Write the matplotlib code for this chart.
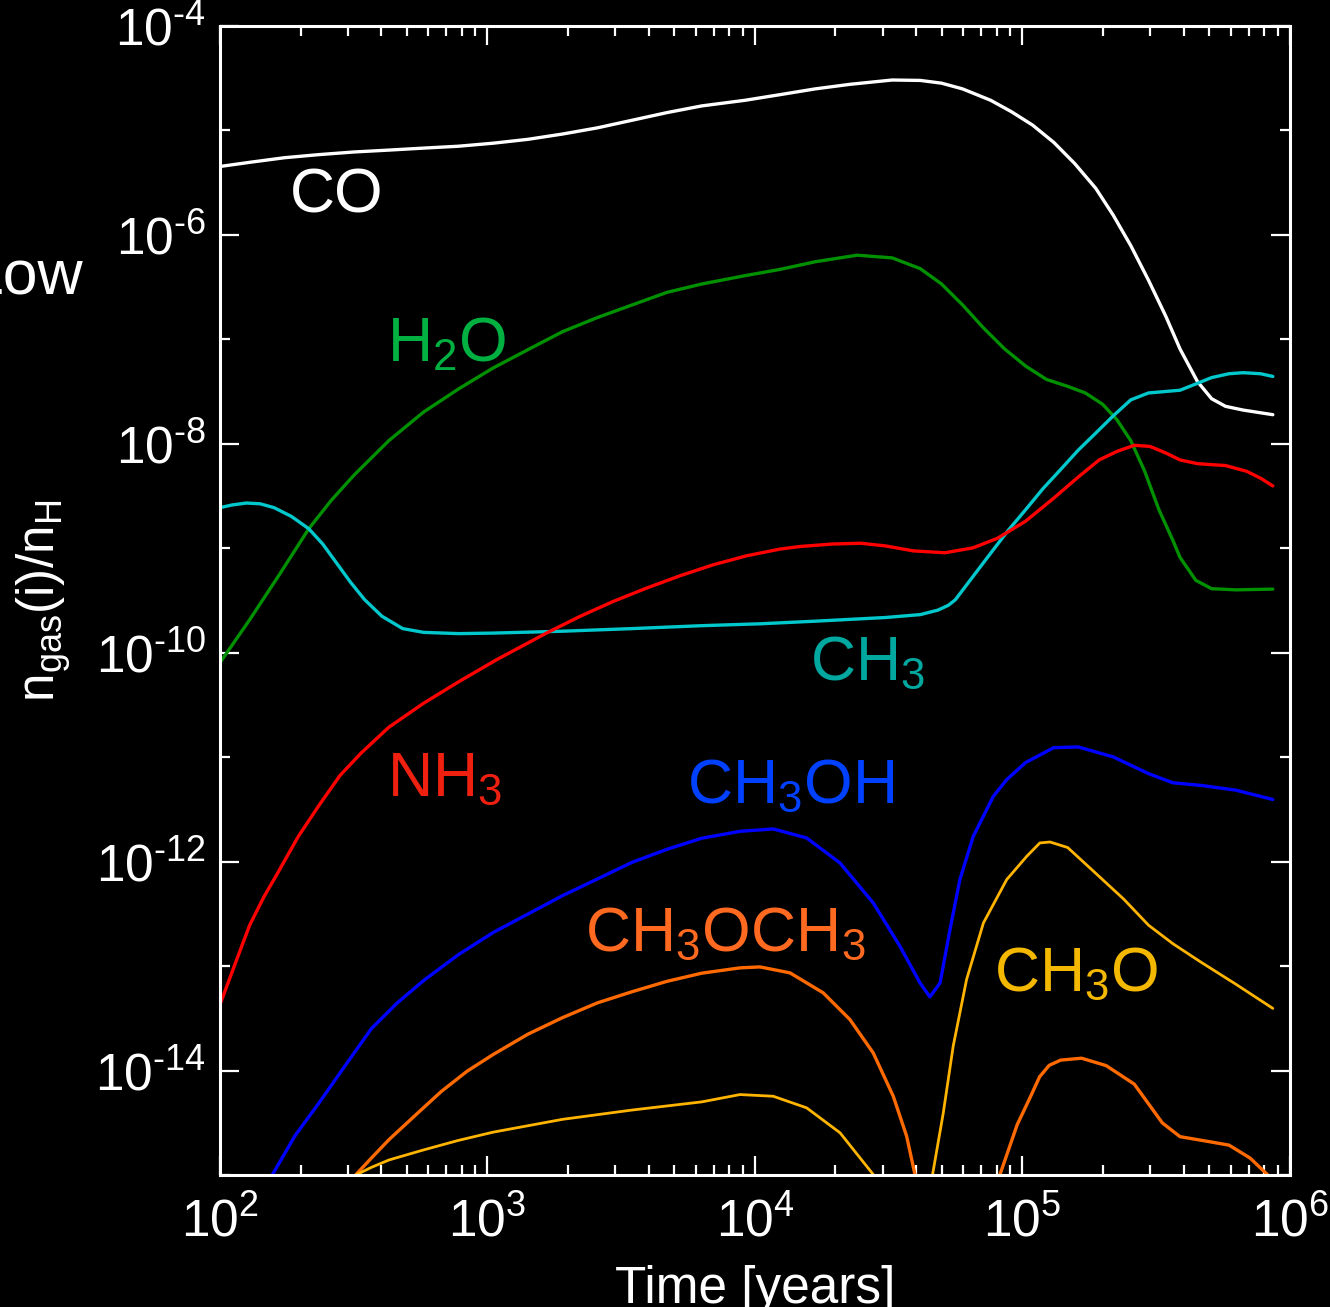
import matplotlib
matplotlib.use("Agg")
import matplotlib.pyplot as plt
import numpy as np
from matplotlib.ticker import FixedLocator, LogLocator, FuncFormatter, NullFormatter

plt.rcParams['font.family'] = ['Liberation Sans', 'DejaVu Sans']
plt.rcParams['mathtext.fontset'] = 'custom'
plt.rcParams['mathtext.rm'] = 'Liberation Sans'
plt.rcParams['mathtext.it'] = 'Liberation Sans'
plt.rcParams['mathtext.bf'] = 'Liberation Sans:bold'

# abundances, as log10(time [yr]) and log10(n/nH)
co_t = [2.0, 2.111, 2.241, 2.371, 2.501, 2.631, 2.761, 2.891, 3.021, 3.151, 3.281, 3.411, 3.541,
        3.671, 3.801, 3.963, 4.094, 4.225, 4.356, 4.513, 4.618, 4.697, 4.776, 4.881, 4.959,
        5.038, 5.117, 5.195, 5.274, 5.339, 5.405, 5.471, 5.536, 5.589, 5.654, 5.707, 5.759,
        5.825, 5.936]
co_n = [-5.345, -5.305, -5.261, -5.231, -5.206, -5.188, -5.169, -5.151, -5.122, -5.085, -5.034, -4.975, -4.902,
        -4.829, -4.765, -4.711, -4.657, -4.602, -4.558, -4.517, -4.521, -4.547, -4.602, -4.711, -4.821,
        -4.949, -5.114, -5.316, -5.554, -5.810, -6.103, -6.433, -6.780, -7.092, -7.403, -7.568, -7.641,
        -7.677, -7.721]

h2o_t = [2.0, 2.111, 2.222, 2.332, 2.417, 2.501, 2.631, 2.761, 2.891, 3.021, 3.151, 3.281, 3.411,
         3.541, 3.671, 3.801, 3.963, 4.094, 4.225, 4.382, 4.513, 4.618, 4.697, 4.776, 4.854,
         4.933, 5.012, 5.090, 5.169, 5.235, 5.300, 5.353, 5.405, 5.457, 5.510, 5.562, 5.589,
         5.648, 5.707, 5.798, 5.936]
h2o_n = [-10.095, -9.684, -9.252, -8.813, -8.538, -8.300, -7.970, -7.696, -7.476, -7.274, -7.099, -6.926, -6.791,
         -6.670, -6.550, -6.470, -6.390, -6.330, -6.257, -6.194, -6.220, -6.323, -6.469, -6.670, -6.890,
         -7.091, -7.256, -7.384, -7.450, -7.513, -7.622, -7.769, -7.970, -8.263, -8.630, -8.923, -9.087,
         -9.307, -9.387, -9.398, -9.391]

ch3_t = [2.0, 2.046, 2.098, 2.150, 2.202, 2.267, 2.332, 2.384, 2.436, 2.488, 2.540, 2.605, 2.683,
         2.761, 2.891, 3.021, 3.281, 3.541, 3.801, 4.019, 4.225, 4.487, 4.618, 4.684, 4.723,
         4.749, 4.815, 4.880, 4.946, 5.012, 5.077, 5.143, 5.208, 5.274, 5.339, 5.405, 5.471,
         5.589, 5.654, 5.707, 5.772, 5.825, 5.890, 5.936]
ch3_n = [-8.611, -8.585, -8.567, -8.574, -8.611, -8.695, -8.813, -8.959, -9.142, -9.325, -9.490, -9.650, -9.769,
         -9.805, -9.817, -9.812, -9.794, -9.769, -9.741, -9.723, -9.698, -9.663, -9.635, -9.592, -9.546,
         -9.493, -9.270, -9.051, -8.831, -8.630, -8.428, -8.245, -8.062, -7.897, -7.733, -7.579, -7.513,
         -7.487, -7.421, -7.366, -7.329, -7.319, -7.329, -7.355]

nh3_t = [2.0, 2.059, 2.111, 2.163, 2.215, 2.293, 2.371, 2.449, 2.527, 2.631, 2.761, 2.891, 3.034,
         3.221, 3.346, 3.470, 3.595, 3.720, 3.844, 3.969, 4.093, 4.168, 4.291, 4.395, 4.487,
         4.592, 4.710, 4.815, 4.907, 5.012, 5.117, 5.208, 5.287, 5.353, 5.418, 5.477, 5.536,
         5.589, 5.654, 5.759, 5.838, 5.890, 5.936]
nh3_n = [-13.369, -12.962, -12.608, -12.343, -12.112, -11.758, -11.458, -11.174, -10.962, -10.714, -10.484, -10.28, -10.067,
         -9.811, -9.652, -9.509, -9.381, -9.263, -9.158, -9.072, -9.008, -8.983, -8.959, -8.952, -8.977,
         -9.025, -9.043, -8.996, -8.904, -8.740, -8.520, -8.319, -8.154, -8.073, -8.014, -8.025, -8.088,
         -8.154, -8.190, -8.208, -8.263, -8.329, -8.403]

ch3oh_t = [2.17, 2.196, 2.280, 2.371, 2.468, 2.566, 2.663, 2.761, 2.891, 3.021, 3.151, 3.281, 3.411,
           3.541, 3.671, 3.801, 3.944, 4.068, 4.193, 4.318, 4.442, 4.542, 4.617, 4.654, 4.692,
           4.729, 4.766, 4.816, 4.891, 4.941, 5.012, 5.117, 5.208, 5.339, 5.471, 5.562, 5.667,
           5.798, 5.936]
ch3oh_n = [-15.1, -14.997, -14.626, -14.307, -13.953, -13.599, -13.352, -13.139, -12.891, -12.679, -12.502, -12.325, -12.166,
           -12.006, -11.882, -11.776, -11.710, -11.687, -11.773, -12.013, -12.395, -12.810, -13.161, -13.295, -13.161,
           -12.651, -12.172, -11.758, -11.375, -11.215, -11.051, -10.909, -10.902, -10.997, -11.157, -11.245, -11.270,
           -11.316, -11.405]

ch3och3_t1 = [2.50, 2.508, 2.566, 2.632, 2.729, 2.827, 2.924, 3.021, 3.151, 3.281, 3.411, 3.541, 3.671,
              3.801, 3.944, 4.019, 4.131, 4.255, 4.355, 4.442, 4.517, 4.567, 4.598, 4.605]
ch3och3_n1 = [-15.1, -14.997, -14.838, -14.661, -14.431, -14.201, -14.006, -13.847, -13.652, -13.493, -13.352, -13.245, -13.146,
              -13.068, -13.017, -13.008, -13.065, -13.256, -13.512, -13.831, -14.246, -14.629, -14.995, -15.1]
ch3och3_t2 = [4.91, 4.916, 4.980, 5.030, 5.064, 5.100, 5.143, 5.221, 5.313, 5.418, 5.523, 5.589, 5.694,
              5.772, 5.851, 5.916, 5.93]
ch3och3_n2 = [-15.1, -14.995, -14.520, -14.250, -14.060, -13.950, -13.900, -13.882, -13.953, -14.130, -14.502, -14.633, -14.679,
              -14.714, -14.838, -14.997, -15.1]

ch3o_t1 = [2.505, 2.510, 2.566, 2.632, 2.761, 2.891, 3.021, 3.281, 3.541, 3.801, 3.944, 4.068, 4.193,
           4.318, 4.442, 4.452]
ch3o_n1 = [-15.1, -14.997, -14.927, -14.856, -14.760, -14.669, -14.590, -14.467, -14.378, -14.300, -14.230, -14.246, -14.357,
           -14.596, -14.995, -15.1]
ch3o_t2 = [4.66, 4.664, 4.704, 4.741, 4.791, 4.854, 4.941, 5.016, 5.065, 5.103, 5.169, 5.274, 5.379,
           5.471, 5.562, 5.667, 5.798, 5.936]
ch3o_n2 = [-15.1, -14.995, -14.405, -13.767, -13.129, -12.587, -12.172, -11.949, -11.821, -11.812, -11.865, -12.112, -12.360,
           -12.608, -12.785, -12.962, -13.174, -13.405]

fig = plt.figure(figsize=(13.3, 13.07), dpi=100, facecolor='black')
ax = fig.add_axes([0.1654, 0.1010, 0.8045, 0.8791], facecolor='black')

lw = 2.4
def p(t, n, c, w=lw):
    ax.plot(10 ** np.array(t), 10 ** np.array(n), color=c, lw=w,
            solid_joinstyle='round', solid_capstyle='round')

p(co_t, co_n, 'white')
p(h2o_t, h2o_n, '#009000')
p(ch3_t, ch3_n, '#00C8CC')
p(nh3_t, nh3_n, '#FF0000')
p(ch3oh_t, ch3oh_n, '#0000FF')
p(ch3och3_t1, ch3och3_n1, '#FF6A00')
p(ch3och3_t2, ch3och3_n2, '#FF6A00')
p(ch3o_t1, ch3o_n1, '#FFB400', 2.0)
p(ch3o_t2, ch3o_n2, '#FFB400', 2.0)

ax.set_xscale('log')
ax.set_yscale('log')
ax.set_xlim(1e2, 1e6)
ax.set_ylim(1e-15, 1e-4)

ax.yaxis.set_major_locator(FixedLocator([10.0 ** e for e in range(-14, -3, 2)]))
ax.yaxis.set_minor_locator(FixedLocator([10.0 ** e for e in range(-15, -4, 2)]))
ax.yaxis.set_minor_formatter(NullFormatter())
ax.xaxis.set_major_locator(LogLocator(base=10, numticks=10))
ax.xaxis.set_minor_locator(LogLocator(base=10, subs=np.arange(2, 10), numticks=20))
ax.xaxis.set_minor_formatter(NullFormatter())

def expfmt(v, pos):
    e = int(round(np.log10(v)))
    if e < 0:
        return r'$\mathregular{10^{\text{-}%d}}$' % (-e)
    return r'$\mathregular{10^{%d}}$' % e

ax.xaxis.set_major_formatter(FuncFormatter(expfmt))
ax.yaxis.set_major_formatter(FuncFormatter(expfmt))

ax.tick_params(which='both', direction='in', top=True, right=True, colors='white',
               labelcolor='white', labelsize=37)
ax.tick_params(which='major', length=14, width=1.6)
ax.tick_params(which='minor', length=7, width=1.6)
ax.tick_params(axis='x', which='major', pad=16)
ax.tick_params(axis='y', which='major', pad=10)
for s in ax.spines.values():
    s.set_color('white')
    s.set_linewidth(2.2)

ax.set_xlabel('Time [years]', color='white', fontsize=37)
ax.xaxis.set_label_coords(0.5, -0.078)
ax.set_ylabel(r'n$_{\mathrm{gas}}$(i)/n$_{\mathrm{H}}$', color='white', fontsize=37)
ax.yaxis.set_label_coords(-0.137, 0.5)

# species labels
lab = dict(fontsize=45, ha='left', va='baseline')
ax.text(10 ** 2.262, 10 ** -5.789, 'CO', color='white', **lab)
ax.text(10 ** 2.624, 10 ** -7.206, r'H$_2$O', color='#00B040', **lab)
ax.text(10 ** 2.624, 10 ** -11.368, r'NH$_3$', color='#F02010', **lab)
ax.text(10 ** 4.206, 10 ** -10.258, r'CH$_3$', color='#00A8A0', **lab)
ax.text(10 ** 3.746, 10 ** -11.435, r'CH$_3$OH', color='#0040FF', **lab)
ax.text(10 ** 3.364, 10 ** -12.852, r'CH$_3$OCH$_3$', color='#FF6A20', **lab)
ax.text(10 ** 4.893, 10 ** -13.244, r'CH$_3$O', color='#F5B800', **lab)

# neighbouring panel's text, cut at the left edge
fig.text(83 / 1330, 1 - 293 / 1307, 'Low', color='white', fontsize=45, ha='right', va='baseline')

fig.savefig('out.png', dpi=100, facecolor='black')
